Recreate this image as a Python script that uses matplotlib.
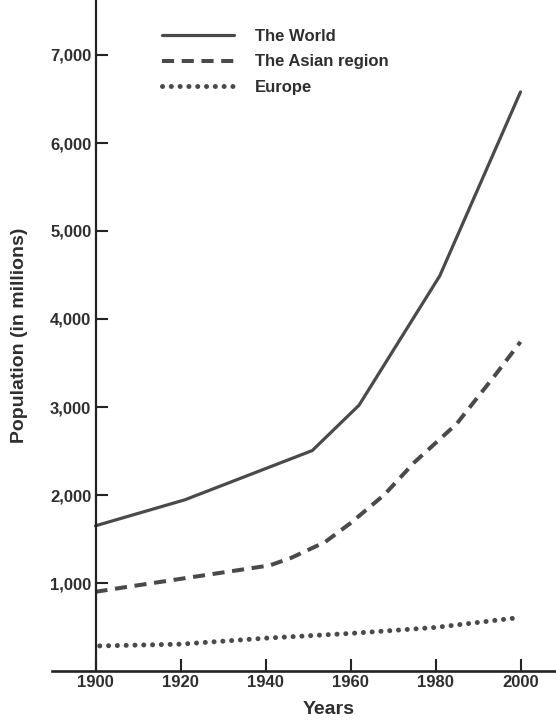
import matplotlib
matplotlib.use("Agg")
import matplotlib.pyplot as plt

# ---- data ----
years_world = [1900, 1921, 1951, 1962, 1981, 2000]
pop_world = [1650, 1945, 2505, 3020, 4490, 6580]

years_asia = [1900, 1906, 1941, 1946, 1954, 1960, 1968, 1975, 1985, 1994, 2000]
pop_asia = [900, 945, 1200, 1285, 1465, 1680, 2005, 2370, 2810, 3360, 3740]

years_europe = [1901, 1920, 1940, 1960, 1980, 2000]
pop_europe = [285, 305, 373, 427, 495, 609]

series_labels = ["The World", "The Asian region", "Europe"]
x_ticks = [1900, 1920, 1940, 1960, 1980, 2000]
x_tick_labels = ["1900", "1920", "1940", "1960", "1980", "2000"]
y_ticks = [1000, 2000, 3000, 4000, 5000, 6000, 7000]
y_tick_labels = ["1,000", "2,000", "3,000", "4,000", "5,000", "6,000", "7,000"]

# ---- style ----
FAMILY = ["Liberation Sans", "DejaVu Sans"]
TEXT_C = "#2e2e2e"
LINE_C = "#4a4a4a"
AXIS_C = "#232323"

W, H = 556, 726
fig = plt.figure(figsize=(W / 100, H / 100), dpi=100)
fig.patch.set_facecolor("white")

left_px, right_px, origin_y_px = 52, 556, 671
ax = fig.add_axes([left_px / W, (H - origin_y_px) / H,
                   (right_px - left_px) / W, origin_y_px / H])
ax.set_facecolor("none")

px_per_year = 4.25
px_per_unit = 88 / 1000
origin_x_px = 95.5
ax.set_xlim(1900 - (origin_x_px - left_px) / px_per_year,
            1900 + (right_px - origin_x_px) / px_per_year)
ax.set_ylim(0, origin_y_px / px_per_unit)

l1, = ax.plot(years_world, pop_world, color=LINE_C, lw=2.3,
              solid_joinstyle="round", solid_capstyle="round",
              label=series_labels[0])
l2, = ax.plot(years_asia, pop_asia, color=LINE_C, lw=2.9,
              linestyle=(0, (3.0, 1.9)), dash_capstyle="butt",
              label=series_labels[1])
l3, = ax.plot(years_europe, pop_europe, color=LINE_C, lw=3.6,
              linestyle=(0, (0.01, 1.75)), dash_capstyle="round",
              label=series_labels[2])

# spines
for s in ["top", "right"]:
    ax.spines[s].set_visible(False)
ax.spines["left"].set_position(("data", 1900))
ax.spines["left"].set_linewidth(1.6)
ax.spines["bottom"].set_linewidth(1.9)
ax.spines["left"].set_color(AXIS_C)
ax.spines["bottom"].set_color(AXIS_C)

ax.set_xticks(x_ticks)
ax.set_xticklabels(x_tick_labels)
ax.set_yticks(y_ticks)
ax.set_yticklabels(y_tick_labels)
ax.tick_params(axis="x", direction="in", length=9, width=1.5, color=AXIS_C,
               pad=3, labelsize=12, labelcolor=TEXT_C)
ax.tick_params(axis="y", direction="in", length=8.5, width=1.5, color=AXIS_C,
               pad=3, labelsize=12, labelcolor=TEXT_C)
for lab in ax.get_xticklabels() + ax.get_yticklabels():
    lab.set_fontfamily(FAMILY)
    lab.set_fontweight("bold")

fig.text(329 / W, 1 - 710 / H, "Years", ha="center", va="center",
         fontsize=14, fontweight="bold", family=FAMILY, color=TEXT_C)
fig.text(20 / W, 1 - 335 / H, "Population (in millions)", ha="center",
         va="center", rotation=90, fontsize=14, fontweight="bold",
         family=FAMILY, color=TEXT_C)

leg = fig.legend(handles=[l1, l2, l3], labels=series_labels,
                 loc="upper left", bbox_to_anchor=(162 / W, 1 - 29 / H),
                 frameon=False, handlelength=4.3, handletextpad=1.3,
                 labelspacing=0.62, borderpad=0, borderaxespad=0,
                 prop={"family": FAMILY, "weight": "bold", "size": 12})
for t in leg.get_texts():
    t.set_color(TEXT_C)

fig.savefig("out.png", dpi=100, facecolor="white")
